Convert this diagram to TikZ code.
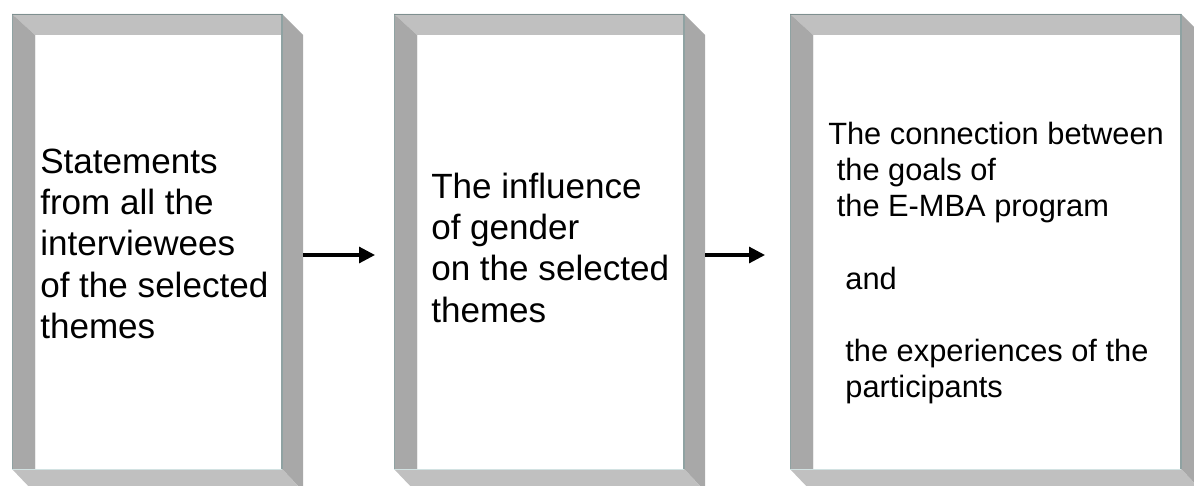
\documentclass[tikz,border=0pt]{standalone}
\usepackage{fontspec}
\setmainfont{Liberation Sans}
\usetikzlibrary{arrows.meta}

\definecolor{bandlight}{HTML}{C0C0C0}
\definecolor{banddark}{HTML}{A8A8A8}
\definecolor{edgeteal}{HTML}{8FA2A2}
\definecolor{edgetop}{HTML}{7E8F8F}
\definecolor{edgepale}{HTML}{D2E2E2}

% Bevelled panel: #1 name, #2 outer left x, #3 right x of the white face
\newcommand{\bevelpanel}[3]{%
  \pgfmathsetmacro\bvL{#2}%
  \pgfmathsetmacro\bvI{#2+23}%
  \pgfmathsetmacro\bvR{#3}%
  \pgfmathsetmacro\bvO{#3+21}%
  \fill[white] (\bvI,35) rectangle (\bvR,469);
  \fill[bandlight] (\bvL,14) -- (\bvR,14) -- (\bvR,35) -- (\bvI,35) -- cycle;
  \fill[banddark] (\bvL,14) -- (\bvI,35) -- (\bvI,469) -- (\bvL,469) -- cycle;
  \fill[banddark] (\bvR,14) -- (\bvO,35) -- (\bvO,491) -- (\bvR,469) -- cycle;
  \fill[bandlight] (\bvL,469) -- (\bvR,469) -- (\bvO,491) -- (\bvL+21,491) -- cycle;
  \draw[edgeteal, line width=0.9pt] (\bvL+0.5,14) -- (\bvL+0.5,469);
  \draw[edgeteal, line width=0.9pt] (\bvR,14) -- (\bvR,469);
  \draw[white!85!gray, line width=0.6pt] (\bvI,35) -- (\bvI,469);
  \draw[edgepale, line width=1pt] (\bvL,469.5) -- (\bvR,469.5);
  \draw[edgetop, line width=1.2pt] (\bvL,14.5) -- (\bvR,14.5);
  \coordinate (#1-out) at (\bvO,255);
  \coordinate (#1-in) at (\bvL,255);
}

\tikzset{
  flowarrow/.style={line width=2.3pt, -{Triangle[length=12pt, width=12pt]}},
  bigtext/.style={anchor=base west, inner sep=0pt, font=\fontsize{26.3}{31}\selectfont},
  smalltext/.style={anchor=base west, inner sep=0pt, font=\fontsize{23.1}{27.2}\selectfont},
}

\begin{document}
\begin{tikzpicture}[x=0.75pt, y=-0.75pt]
  \useasboundingbox (0,0) rectangle (1194,485);
  \fill[white] (0,0) rectangle (1194,485);

  \bevelpanel{box1}{12}{282}
  \bevelpanel{box2}{394}{684}
  \bevelpanel{box3}{790}{1181}

  \node[bigtext] (text1) at (40,173)
    {\begin{tabular}[t]{@{}l@{}}Statements\\ from all the\\ interviewees\\ of the selected\\ themes\end{tabular}};

  \node[bigtext] (text2) at (431,198)
    {\begin{tabular}[t]{@{}l@{}}The influence\\ of gender\\ on the selected\\ themes\end{tabular}};

  \node[smalltext] (text3) at (828,144)
    {\begin{tabular}[t]{@{}l@{}}The connection between\\ \ the goals of\\ \ the E-MBA program\\ \\ \ \ and\\ \\ \ \ the experiences of the\\ \ \ participants\end{tabular}};

  \coordinate (tip1) at (375,255);
  \coordinate (tip2) at (765,255);
  \draw[flowarrow] (box1-out) -- (tip1);
  \draw[flowarrow] (box2-out) -- (tip2);
\end{tikzpicture}
\end{document}
